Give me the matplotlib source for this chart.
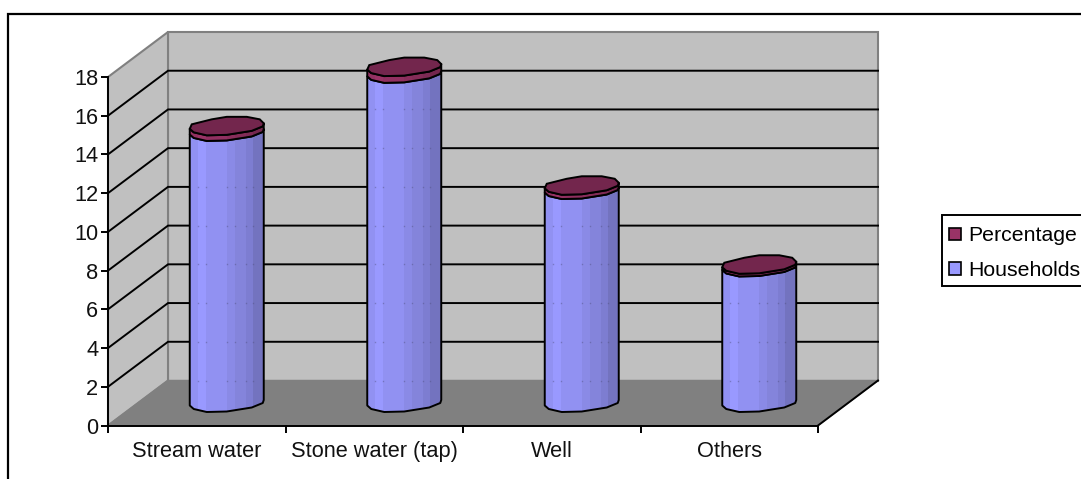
import matplotlib
matplotlib.use("Agg")
from matplotlib import pyplot as plt
from matplotlib.lines import Line2D
from matplotlib.patches import Patch, Polygon, Rectangle
import numpy as np

plt.rcParams['font.family'] = ['Liberation Sans', 'DejaVu Sans']

categories = ['Stream water', 'Stone water (tap)', 'Well', 'Others']
households = [14, 17, 11, 7]
percentage = [0.29, 0.35, 0.22, 0.14]
y_ticks = [0, 2, 4, 6, 8, 10, 12, 14, 16, 18]

W, H = 1081, 479
LEFT, RIGHT, BOTTOM, TOP = 108, 818, 425.5, 77
px_x = 4 / (RIGHT - LEFT)
px_y = 18 / (BOTTOM - TOP)

# depth of the 3d box, in data units
depth_x = 60 * px_x
depth_y = 45 * px_y

# outline of a cylinder rim, pixels from its centre with y pointing down
front_rim = np.array([(-37, 2.5), (-33, 6), (-20, 9), (0, 8.5), (25, 4.5), (36, 0), (37, -3)], float)
back_rim = np.array([(33, -7), (20, -9.5), (0, -9.5), (-15, -7), (-35, -2)], float)

# vertical shading bands across a cylinder: start position and brightness
band_edges = [-37, -29, -21, 0, 8, 19, 26, 37]
band_shades = [0.95, 1.0, 0.95, 0.9, 0.86, 0.82, 0.75]

fig = plt.figure(figsize=(W / 100, H / 100), dpi=100)
ax = fig.add_axes([LEFT / W, 1 - BOTTOM / H, (RIGHT - LEFT) / W, (BOTTOM - TOP) / H])
ax.set_xlim(0, 4)
ax.set_ylim(0, 18)
ax.patch.set_visible(False)

# walls and floor
wall_kw = dict(facecolor='#C0C0C0', edgecolor='#808080', linewidth=1.5, zorder=1, clip_on=False)
ax.add_patch(Polygon([(depth_x, depth_y), (4 + depth_x, depth_y), (4 + depth_x, 18 + depth_y), (depth_x, 18 + depth_y)], **wall_kw))
ax.add_patch(Polygon([(0, 0), (depth_x, depth_y), (depth_x, 18 + depth_y), (0, 18)], **wall_kw))
ax.add_patch(Polygon([(0, 0), (4, 0), (4 + depth_x, depth_y), (depth_x, depth_y)],
                     facecolor='#808080', edgecolor='#808080', linewidth=1, zorder=2, clip_on=False))
ax.plot([4, 4 + depth_x], [0, depth_y], color='black', lw=1.4, zorder=3, clip_on=False)

for v in y_ticks[1:-1]:
    ax.plot([0, depth_x, 4 + depth_x], [v, v + depth_y, v + depth_y], color='black', lw=1.4,
            zorder=2, clip_on=False, solid_joinstyle='miter')


def rim_points(points, cx, value):
    return np.column_stack([cx + points[:, 0] * px_x, value + depth_y / 2 - points[:, 1] * px_y])


def draw_section(cx, v0, v1, color, z):
    lower = rim_points(front_rim, cx, v0)
    upper = rim_points(front_rim, cx, v1)
    outline = np.vstack([lower, upper[::-1]])
    clip = Polygon(outline, facecolor='none', edgecolor='none', zorder=z, clip_on=False)
    ax.add_patch(clip)
    rgb = np.array(matplotlib.colors.to_rgb(color))
    for i, shade in enumerate(band_shades):
        x0 = cx + band_edges[i] * px_x
        x1 = cx + band_edges[i + 1] * px_x
        band = Rectangle((x0, -5), x1 - x0, 35, facecolor=rgb * shade, edgecolor='none', zorder=z)
        ax.add_patch(band)
        band.set_clip_box(None)
        band.set_clip_path(clip)
    ax.add_patch(Polygon(outline, facecolor='none', edgecolor='black', linewidth=1.4,
                         zorder=z + 0.1, clip_on=False, joinstyle='round'))


for i in range(len(categories)):
    cx = i + 0.5 + depth_x / 2
    top = households[i] + percentage[i]
    draw_section(cx, 0, households[i], '#9999FF', 5)
    draw_section(cx, households[i], top, '#993366', 6)
    cap = rim_points(np.vstack([front_rim, back_rim]), cx, top)
    ax.add_patch(Polygon(cap, facecolor='#73264D', edgecolor='black', linewidth=1.4, zorder=7, clip_on=False))
    # gridlines show faintly through the band seams
    seams = cx + np.array(band_edges[1:-1]) * px_x
    for v in [0] + y_ticks[1:-1]:
        if v + depth_y < households[i]:
            ax.plot(seams, [v + depth_y] * len(seams), ls='none', marker='s', ms=1, mew=0,
                    color='#50507F', alpha=0.45, zorder=5.05, clip_on=False)

# axes
for side in ['top', 'right']:
    ax.spines[side].set_visible(False)
for side in ['left', 'bottom']:
    ax.spines[side].set_linewidth(1.4)
    ax.spines[side].set_zorder(4)
ax.set_yticks(y_ticks)
ax.set_xticks(range(5))
ax.set_xticklabels([])
ax.set_xticks([0.5, 1.5, 2.5, 3.5], categories, minor=True)
ax.tick_params(axis='x', which='major', length=5, width=1.4)
ax.tick_params(axis='x', which='minor', length=0, pad=11, labelsize=15.7, labelcolor='#111111')
ax.tick_params(axis='y', length=5, width=1.4, pad=2, labelsize=15.7, labelcolor='#111111')

# legend box runs off the right edge, so the frame is drawn on its own
fig.add_artist(Rectangle((942 / W, 1 - 286 / H), 150 / W, 71 / H, facecolor='white', edgecolor='black',
                         linewidth=1.4, transform=fig.transFigure))
handles = [Patch(facecolor='#993366', edgecolor='black', linewidth=1.2),
           Patch(facecolor='#9999FF', edgecolor='black', linewidth=1.2)]
leg = fig.legend(handles, ['Percentage', 'Households'], loc='upper left',
                 bbox_to_anchor=(942 / W, 1 - 219 / H), fontsize=15.3, frameon=False,
                 handlelength=0.55, handleheight=0.55,
                 handletextpad=0.35, borderpad=0.35, labelspacing=0.72, borderaxespad=0)
leg.set_zorder(10)

# outer chart border
fig.add_artist(Line2D([8 / W, 8 / W, 1], [0, 1 - 14 / H, 1 - 14 / H], color='black', lw=1.6,
                      solid_joinstyle='miter'))

fig.savefig('out.png', dpi=100)
